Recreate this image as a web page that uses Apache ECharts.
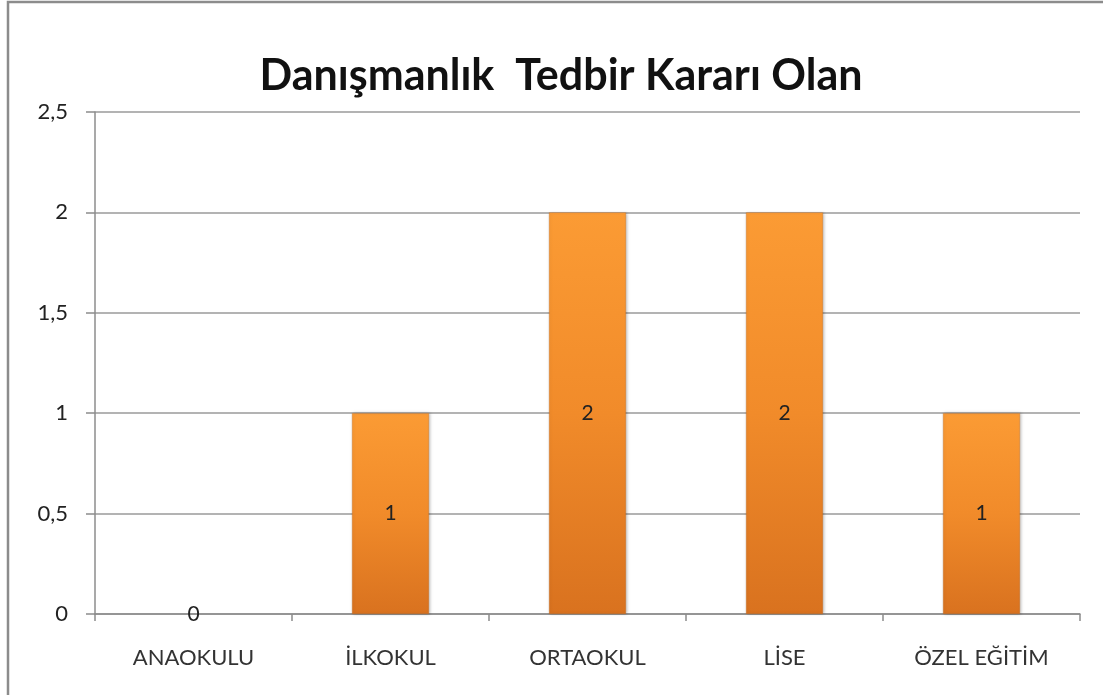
<!DOCTYPE html>
<html>
<head>
<meta charset="utf-8">
<title>Danışmanlık Tedbir Kararı Olan</title>
<script src="https://cdn.jsdelivr.net/npm/echarts@6/dist/echarts.min.js"></script>
<style>
  html, body { margin: 0; padding: 0; background: #fff; }
  #chart { width: 1103px; height: 695px; }
</style>
</head>
<body>
<div id="chart"></div>
<script type="text/javascript">
var categories = ['ANAOKULU', 'İLKOKUL', 'ORTAOKUL', 'LİSE', 'ÖZEL EĞİTİM'];
var values = [0, 1, 2, 2, 1];
var yTicks = [0, 0.5, 1, 1.5, 2, 2.5];

var myChart = echarts.init(document.getElementById('chart'));

var barColor = new echarts.graphic.LinearGradient(0, 0, 0, 1, [
    { offset: 0, color: '#fb9b34' },
    { offset: 0.5, color: '#f18b2a' },
    { offset: 1, color: '#d9721f' }
]);

// a zero bar draws nothing in the original, only its label
var barData = values.map(function (v) {
    if (v !== 0) return v;
    return { value: v, itemStyle: { color: 'transparent', borderWidth: 0, shadowColor: 'transparent' } };
});

var option = {
    animation: false,
    textStyle: { fontFamily: 'Lato, "Open Sans", sans-serif' },
    graphic: [{
        type: 'rect',
        shape: { x: 8, y: 2, width: 1120, height: 720 },
        style: { fill: 'none', stroke: '#8c8c8c', lineWidth: 2.5 },
        silent: true
    }],
    title: {
        text: 'Danışmanlık  Tedbir Kararı Olan',
        left: 556,
        top: 50,
        textAlign: 'center',
        textStyle: { fontSize: 43, fontWeight: 'bold', color: '#111', fontFamily: 'Lato, "Open Sans", sans-serif' }
    },
    grid: { left: 95, right: 23, top: 112, bottom: 81, containLabel: false },
    xAxis: {
        type: 'category',
        data: categories,
        axisLine: { lineStyle: { color: '#8c8c8c', width: 1.5 } },
        axisTick: { show: true, length: 7, lineStyle: { color: '#8c8c8c', width: 1.5 } },
        axisLabel: { margin: 33, fontSize: 22, color: '#333' }
    },
    yAxis: {
        type: 'value',
        min: 0,
        max: yTicks[yTicks.length - 1],
        interval: 0.5,
        axisLine: { show: true, lineStyle: { color: '#8c8c8c', width: 1.5 } },
        axisTick: { show: true, inside: false, length: 9, lineStyle: { color: '#8c8c8c', width: 1.5 } },
        splitLine: { lineStyle: { color: '#9a9a9a', width: 1.5 } },
        axisLabel: {
            margin: 27,
            fontSize: 22,
            color: '#222',
            formatter: function (v) { return String(v).replace('.', ','); }
        }
    },
    series: [{
        type: 'bar',
        data: barData,
        barWidth: 77,
        itemStyle: {
            color: barColor,
            borderColor: 'rgba(190,100,25,0.6)',
            borderWidth: 0.5,
            shadowColor: 'rgba(0,0,0,0.25)',
            shadowBlur: 3,
            shadowOffsetX: 1
        },
        label: {
            show: true,
            position: 'inside',
            fontSize: 21,
            color: '#222'
        }
    }]
};

myChart.setOption(option);
</script>
</body>
</html>
